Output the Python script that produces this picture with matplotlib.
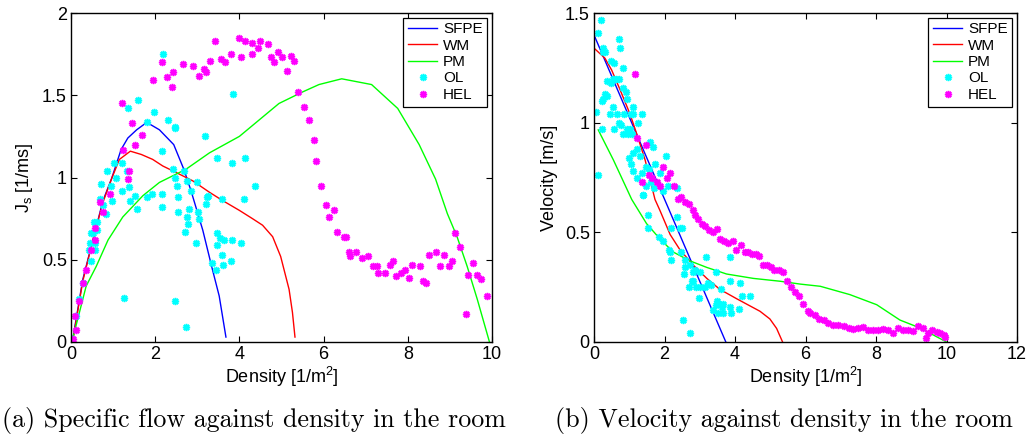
import matplotlib
matplotlib.use("Agg")
import matplotlib.pyplot as plt

# ---------------- data: (a) specific flow vs density ----------------
sfpe_a_d = [0.05, 0.28, 0.52, 0.76, 0.96, 1.19, 1.35, 1.56, 1.80, 2.10, 2.44, 2.68, 2.85, 3.13, 3.36, 3.52, 3.68]
sfpe_a_j = [0.03, 0.38, 0.62, 0.86, 0.99, 1.17, 1.24, 1.29, 1.335, 1.29, 1.20, 1.05, 0.92, 0.68, 0.44, 0.28, 0.03]

wm_a_d = [0.05, 0.28, 0.52, 0.76, 0.96, 1.15, 1.41, 1.67, 1.94, 2.18, 2.50, 2.89, 3.29, 3.60, 4.0, 4.31, 4.55, 4.79, 4.98, 5.18, 5.26, 5.32]
wm_a_j = [0.02, 0.37, 0.62, 0.85, 0.99, 1.11, 1.16, 1.14, 1.11, 1.07, 1.03, 0.98, 0.91, 0.86, 0.80, 0.75, 0.71, 0.64, 0.52, 0.32, 0.18, 0.03]

pm_a_d = [0.05, 0.2, 0.36, 0.60, 0.88, 1.23, 1.71, 2.10, 2.73, 3.29, 4.0, 4.47, 4.94, 5.50, 5.89, 6.43, 7.14, 7.76, 8.27, 8.66, 8.94, 9.17, 9.41, 9.65, 9.94]
pm_a_j = [0.03, 0.18, 0.34, 0.46, 0.62, 0.76, 0.89, 0.97, 1.05, 1.15, 1.25, 1.35, 1.45, 1.52, 1.565, 1.60, 1.565, 1.42, 1.20, 0.99, 0.78, 0.64, 0.46, 0.26, 0.0]

ol_a_d = [2.19, 1.59, 1.35, 3.84, 1.96, 1.80, 2.31, 2.47, 2.46, 3.18, 2.16, 1.22, 1.01, 0.85, 1.07, 1.32,
          3.46, 4.13, 3.83, 2.43, 2.69, 0.72, 0.94, 1.21, 1.37, 1.39, 1.51, 1.56, 1.81, 1.93, 2.16, 2.16,
          2.55, 2.55, 2.80, 2.85, 2.78, 2.76, 2.70, 3.01, 3.03, 2.96, 3.22, 3.21, 3.59, 4.12, 4.37, 3.46,
          3.53, 3.64, 3.46, 3.82, 4.04, 3.58, 3.36, 3.45, 3.60, 3.80, 1.26, 2.47, 2.72, 2.46, 2.51, 2.76,
          3.00, 3.25, 0.03, 0.13, 0.18, 0.29, 0.43, 0.48, 0.45, 0.53, 0.54, 0.62, 0.62, 0.58, 0.58, 0.70,
          0.77, 0.82, 0.97, 0.47]
ol_a_j = [1.75, 1.47, 1.42, 1.51, 1.40, 1.34, 1.35, 1.31, 1.30, 1.25, 1.16, 1.09, 1.09, 1.04, 1.00, 1.04,
          1.12, 1.12, 1.09, 1.05, 1.04, 0.96, 0.95, 0.92, 0.94, 0.86, 0.89, 0.81, 0.88, 0.90, 0.90, 0.82,
          0.88, 0.79, 0.81, 0.92, 0.72, 0.76, 0.67, 0.79, 0.75, 0.60, 0.88, 0.84, 0.87, 0.87, 0.95, 0.66,
          0.63, 0.62, 0.59, 0.62, 0.60, 0.53, 0.48, 0.44, 0.47, 0.49, 0.27, 0.25, 0.09, 1.00, 0.95, 0.98,
          0.97, 0.89, 0.02, 0.16, 0.26, 0.36, 0.56, 0.49, 0.60, 0.66, 0.73, 0.73, 0.68, 0.56, 0.60, 0.87,
          0.83, 0.78, 0.86, 0.66]

hel_a_d = [3.42, 3.98, 4.14, 4.30, 4.49, 4.44, 4.68, 4.92, 5.00, 4.83, 4.74, 5.23, 5.30, 5.13, 5.40, 5.54,
           5.65, 5.77, 5.83, 5.94, 4.30, 4.03, 3.81, 3.66, 3.57, 3.31, 3.21, 3.17, 3.03, 2.90, 2.65, 2.43,
           2.29, 2.16, 2.41, 1.94, 1.69, 1.53, 1.44, 1.21, 1.24, 1.37, 1.35, 0.92,
           0.05, 0.11, 0.10, 0.20, 0.28, 0.36, 0.47, 0.56, 0.58, 0.70, 0.76,
           6.06, 6.13, 6.24, 6.33, 6.48, 6.54, 6.60, 6.63, 6.77, 6.92, 7.06, 7.17, 7.26, 7.29, 7.47, 7.57,
           7.64, 7.72, 7.83, 7.94, 8.03, 8.10, 8.29, 8.36, 8.44, 8.51, 8.67, 8.76, 8.85, 8.97, 9.04, 9.13,
           9.24, 9.39, 9.44, 9.54, 9.65, 9.74, 9.87]
hel_a_j = [1.83, 1.85, 1.83, 1.82, 1.83, 1.79, 1.81, 1.76, 1.73, 1.70, 1.73, 1.74, 1.71, 1.65, 1.52, 1.43,
           1.35, 1.23, 1.10, 0.95, 1.75, 1.73, 1.75, 1.70, 1.72, 1.71, 1.64, 1.66, 1.62, 1.68, 1.69, 1.64,
           1.61, 1.70, 1.55, 1.59, 1.26, 1.20, 1.33, 1.45, 1.17, 1.04, 0.99, 0.90,
           0.02, 0.07, 0.16, 0.25, 0.36, 0.44, 0.56, 0.62, 0.69, 0.85, 0.79,
           0.83, 0.76, 0.80, 0.67, 0.64, 0.64, 0.55, 0.52, 0.55, 0.51, 0.52, 0.46, 0.46, 0.42, 0.42, 0.47,
           0.49, 0.40, 0.42, 0.44, 0.39, 0.47, 0.46, 0.37, 0.36, 0.53, 0.55, 0.46, 0.53, 0.46, 0.49, 0.66,
           0.58, 0.17, 0.41, 0.48, 0.41, 0.38, 0.28]

# ---------------- data: (b) velocity vs density ----------------
sfpe_b_d = [0.0, 3.74]
sfpe_b_v = [1.40, 0.0]

wm_b_d = [0.0, 0.31, 0.50, 0.74, 1.02, 1.21, 1.45, 1.73, 1.87, 2.16, 2.44, 2.82, 3.20, 3.57, 4.05, 4.71, 4.99, 5.18, 5.35]
wm_b_v = [1.34, 1.294, 1.24, 1.15, 1.04, 0.95, 0.83, 0.65, 0.60, 0.49, 0.42, 0.35, 0.29, 0.24, 0.197, 0.14, 0.105, 0.062, 0.0]

pm_b_d = [0.12, 0.55, 1.07, 1.49, 1.87, 2.25, 2.72, 3.20, 3.76, 4.52, 5.28, 5.85, 6.42, 7.26, 8.02, 8.68, 9.25, 10.0]
pm_b_v = [0.967, 0.83, 0.65, 0.54, 0.47, 0.41, 0.37, 0.34, 0.31, 0.29, 0.277, 0.264, 0.254, 0.216, 0.17, 0.10, 0.064, 0.0]

ol_b_d = [0.19, 0.10, 0.71, 0.74, 0.25, 0.31, 0.26, 0.47, 0.58, 0.81, 0.36, 0.53, 0.62, 0.71, 0.47, 0.81,
          0.90, 0.31, 0.36, 0.26, 0.23, 0.93, 1.12, 0.55, 0.06, 0.45, 0.66, 0.85, 1.05, 1.12, 1.35, 0.72,
          1.26, 0.78, 0.22, 0.58, 1.02, 0.93, 0.83, 0.97, 1.07, 1.59, 1.66, 1.21, 1.10, 1.30, 2.03, 1.00,
          1.04, 1.48, 1.74, 1.57, 1.10, 1.87, 1.21, 1.35, 0.10, 1.61, 1.48, 2.09, 2.36, 1.40,
          1.40, 1.53, 1.54, 1.70, 1.97, 2.35, 2.18, 2.44, 2.49, 1.83, 1.95, 2.14, 2.16, 2.18, 2.46, 2.58,
          2.72, 2.58, 2.56, 2.82, 2.87, 3.01, 3.18, 3.46, 3.86, 2.82, 2.77, 2.70, 2.89, 3.01, 3.15, 3.24,
          3.31, 3.59, 3.86, 4.14, 4.19, 4.43, 2.99, 3.50, 3.55, 3.62, 3.46, 3.67, 3.39, 3.53, 3.67, 3.86,
          3.88, 4.12, 2.53, 2.72]
ol_b_v = [1.47, 1.41, 1.38, 1.34, 1.34, 1.32, 1.32, 1.28, 1.27, 1.25, 1.19, 1.20, 1.20, 1.20, 1.18, 1.16,
          1.14, 1.13, 1.12, 1.11, 1.10, 1.11, 1.07, 1.07, 1.05, 1.04, 1.04, 1.04, 1.04, 1.04, 1.04, 1.00,
          1.00, 0.99, 0.97, 0.97, 0.97, 0.97, 0.95, 0.95, 0.95, 0.91, 0.89, 0.88, 0.86, 0.85, 0.85, 0.84,
          0.81, 0.80, 0.81, 0.79, 0.78, 0.77, 0.75, 0.77, 0.76, 0.73, 0.71, 0.71, 0.70, 0.67,
          0.67, 0.58, 0.52, 0.70, 0.69, 0.57, 0.52, 0.52, 0.52, 0.48, 0.46, 0.42, 0.41, 0.375, 0.41, 0.375,
          0.35, 0.34, 0.31, 0.32, 0.33, 0.32, 0.386, 0.32, 0.386, 0.28, 0.28, 0.25, 0.25, 0.25, 0.25, 0.27,
          0.26, 0.24, 0.28, 0.27, 0.21, 0.21, 0.20, 0.185, 0.175, 0.16, 0.17, 0.175, 0.145, 0.13, 0.13, 0.16,
          0.13, 0.15, 0.10, 0.04]

hel_b_d = [1.16, 1.23, 1.48, 1.97, 2.16, 2.08, 1.56, 1.65, 1.80, 1.87, 1.35, 2.28, 2.37, 2.47, 2.58, 2.70,
           2.80, 2.87, 2.96, 3.05, 3.15, 3.27, 3.37, 3.48, 3.57, 3.69, 3.79, 3.95, 4.04, 4.18, 4.28, 4.38,
           4.47, 4.59, 4.69, 4.80, 4.92, 5.01, 5.12, 5.26, 5.35, 5.47, 5.58, 5.70, 5.82, 5.94, 6.06, 6.13,
           6.27, 6.39, 6.53, 6.65, 6.79, 6.93, 7.08, 7.22, 7.36, 7.50, 7.64, 7.78, 7.92, 8.07, 8.21, 8.35,
           8.49, 8.63, 8.77, 8.92, 9.06, 9.20, 9.32, 9.42, 9.48, 9.60, 9.72, 9.81, 9.92, 9.97]
hel_b_v = [1.22, 0.93, 0.90, 0.80, 0.77, 0.75, 0.76, 0.75, 0.73, 0.71, 0.73, 0.71, 0.65, 0.66, 0.64, 0.63,
           0.60, 0.58, 0.56, 0.54, 0.53, 0.51, 0.50, 0.515, 0.47, 0.46, 0.45, 0.46, 0.42, 0.44, 0.41, 0.41,
           0.40, 0.40, 0.39, 0.35, 0.35, 0.34, 0.33, 0.33, 0.32, 0.28, 0.25, 0.23, 0.21, 0.175, 0.14, 0.13,
           0.125, 0.105, 0.10, 0.087, 0.079, 0.079, 0.071, 0.064, 0.059, 0.064, 0.068, 0.056, 0.056, 0.053, 0.061, 0.056,
           0.041, 0.064, 0.056, 0.056, 0.049, 0.071, 0.064, 0.018, 0.041, 0.053, 0.046, 0.041, 0.033, 0.023]

legend_labels = ["SFPE", "WM", "PM", "OL", "HEL"]
captions = ["(a) Specific flow against density in the room",
            "(b) Velocity against density in the room"]

# ---------------- styling ----------------
plt.rcParams['font.family'] = ['Liberation Sans', 'DejaVu Sans']
plt.rcParams['mathtext.fontset'] = 'custom'
plt.rcParams['mathtext.rm'] = 'Liberation Sans'
plt.rcParams['font.size'] = 13

W, H = 1032, 442
fig = plt.figure(figsize=(W / 100, H / 100), dpi=100)

ax1 = fig.add_axes([71 / W, 1 - 342 / H, 421 / W, 329 / H])
ax2 = fig.add_axes([594 / W, 1 - 342 / H, 423 / W, 329 / H])

AST = (8, 2, 0)
mkw = dict(linestyle='none', marker=AST, markersize=5.2, markeredgewidth=1.15)


def draw(ax, sd, sv, wd, wv, pd, pv, od, ov, hd, hv):
    ax.plot(sd, sv, color=(0, 0, 1), lw=1.0, label=legend_labels[0])
    ax.plot(wd, wv, color=(1, 0, 0), lw=1.0, label=legend_labels[1])
    ax.plot(pd, pv, color=(0, 1, 0), lw=1.0, label=legend_labels[2])
    ax.plot(od, ov, color=(0, 1, 1), label=legend_labels[3], **mkw)
    ax.plot(hd, hv, color=(1, 0, 1), label=legend_labels[4], **mkw)
    ax.tick_params(direction='in', length=4, width=0.8, top=True, right=True,
                   labelsize=13, pad=3)
    for s in ax.spines.values():
        s.set_linewidth(1.0)
    leg = ax.legend(loc='upper right', fontsize=11, frameon=True, fancybox=False,
                    edgecolor='black', framealpha=1, borderaxespad=0.3,
                    handlelength=1.9, handletextpad=0.4, labelspacing=0.16,
                    borderpad=0.3, numpoints=1)
    leg.get_frame().set_linewidth(0.9)
    ax.set_xlabel(r'Density [1/m$^\mathregular{2}$]', fontsize=13, labelpad=1)


draw(ax1, sfpe_a_d, sfpe_a_j, wm_a_d, wm_a_j, pm_a_d, pm_a_j, ol_a_d, ol_a_j, hel_a_d, hel_a_j)
draw(ax2, sfpe_b_d, sfpe_b_v, wm_b_d, wm_b_v, pm_b_d, pm_b_v, ol_b_d, ol_b_v, hel_b_d, hel_b_v)

ax1.set_xlim(0, 10)
ax1.set_ylim(0, 2)
ax1.set_xticks([0, 2, 4, 6, 8, 10])
ax1.set_yticks([0, 0.5, 1, 1.5, 2])
ax1.set_yticklabels(['0', '0.5', '1', '1.5', '2'])
ax1.set_ylabel(r'J$_\mathregular{s}$ [1/ms]', fontsize=13, labelpad=5)

ax2.set_xlim(0, 12)
ax2.set_ylim(0, 1.5)
ax2.set_xticks([0, 2, 4, 6, 8, 10, 12])
ax2.set_yticks([0, 0.5, 1, 1.5])
ax2.set_yticklabels(['0', '0.5', '1', '1.5'])
ax2.set_ylabel('Velocity [m/s]', fontsize=13, labelpad=5)

fig.text(254 / W, 1 - 420 / H, captions[0], family='cmr10', fontsize=18.7,
         ha='center', va='center')
fig.text(784 / W, 1 - 420 / H, captions[1], family='cmr10', fontsize=18.7,
         ha='center', va='center')

fig.savefig('out.png', dpi=100)
